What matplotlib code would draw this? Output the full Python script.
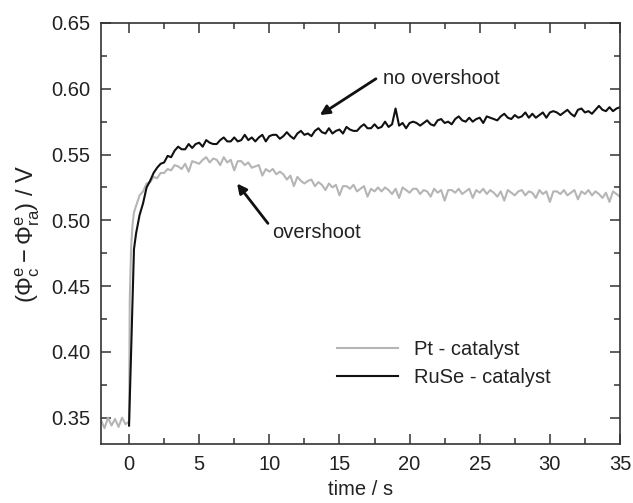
import numpy as np
import matplotlib
matplotlib.use("Agg")
import matplotlib.pyplot as plt
from matplotlib.ticker import MultipleLocator

plt.rcParams['font.family'] = ['Liberation Sans', 'DejaVu Sans']
plt.rcParams['mathtext.fontset'] = 'custom'
plt.rcParams['mathtext.rm'] = 'Liberation Sans'
plt.rcParams['mathtext.it'] = 'Liberation Sans:italic'

# --- data (time in s, potential in V) ---
# Pt before the step, t = -2 ... 0 every 0.25 s
pt_pre = [0.348, 0.342, 0.350, 0.344, 0.349, 0.343, 0.350, 0.345, 0.347]
# steep rise right after the step
pt_rise_t = [0.05, 0.15, 0.25, 0.35]
pt_rise = [0.440, 0.480, 0.497, 0.506]
ruse_rise_t = [0.0, 0.35]
ruse_rise = [0.344, 0.478]

# both traces from t = 0.5 to 35 s every 0.25 s
pt_body = [
    0.511, 0.519, 0.522, 0.528, 0.529, 0.533, 0.532, 0.536, 0.536, 0.539,
    0.538, 0.542, 0.541, 0.539, 0.543, 0.537, 0.545, 0.544, 0.543, 0.546,
    0.548, 0.544, 0.547, 0.546, 0.542, 0.548, 0.544, 0.546, 0.538, 0.545,
    0.545, 0.542, 0.544, 0.540, 0.541, 0.542, 0.534, 0.539, 0.537, 0.539,
    0.535, 0.537, 0.535, 0.531, 0.534, 0.526, 0.533, 0.530, 0.528, 0.530,
    0.531, 0.526, 0.529, 0.527, 0.523, 0.528, 0.525, 0.527, 0.519, 0.526,
    0.526, 0.524, 0.527, 0.522, 0.524, 0.526, 0.518, 0.524, 0.522, 0.525,
    0.522, 0.525, 0.523, 0.520, 0.524, 0.517, 0.525, 0.523, 0.521, 0.524,
    0.524, 0.520, 0.523, 0.522, 0.518, 0.524, 0.521, 0.523, 0.515, 0.523,
    0.523, 0.521, 0.524, 0.520, 0.522, 0.524, 0.517, 0.523, 0.521, 0.524,
    0.520, 0.523, 0.521, 0.518, 0.522, 0.515, 0.523, 0.521, 0.519, 0.522,
    0.523, 0.519, 0.522, 0.521, 0.517, 0.523, 0.520, 0.522, 0.514, 0.522,
    0.522, 0.520, 0.523, 0.519, 0.521, 0.523, 0.516, 0.522, 0.520, 0.523,
    0.519, 0.522, 0.520, 0.517, 0.521, 0.514, 0.522, 0.520, 0.518,
]
ruse_body = [
    0.490, 0.504, 0.513, 0.525, 0.530, 0.536, 0.540, 0.543, 0.544, 0.549,
    0.548, 0.553, 0.556, 0.554, 0.554, 0.558, 0.555, 0.558, 0.559, 0.556,
    0.561, 0.559, 0.558, 0.558, 0.561, 0.563, 0.560, 0.560, 0.563, 0.560,
    0.561, 0.565, 0.561, 0.563, 0.560, 0.563, 0.565, 0.560, 0.564, 0.565,
    0.565, 0.562, 0.564, 0.567, 0.564, 0.562, 0.566, 0.568, 0.565, 0.566,
    0.564, 0.568, 0.570, 0.567, 0.566, 0.570, 0.566, 0.568, 0.569, 0.566,
    0.571, 0.569, 0.568, 0.568, 0.571, 0.573, 0.570, 0.570, 0.573, 0.570,
    0.571, 0.575, 0.571, 0.573, 0.585, 0.572, 0.574, 0.570, 0.574, 0.575,
    0.574, 0.572, 0.574, 0.576, 0.573, 0.572, 0.576, 0.577, 0.574, 0.575,
    0.573, 0.577, 0.579, 0.576, 0.575, 0.578, 0.575, 0.577, 0.578, 0.574,
    0.579, 0.578, 0.577, 0.576, 0.579, 0.581, 0.578, 0.577, 0.580, 0.578,
    0.579, 0.582, 0.578, 0.581, 0.578, 0.580, 0.582, 0.578, 0.582, 0.583,
    0.582, 0.580, 0.582, 0.584, 0.581, 0.579, 0.584, 0.585, 0.582, 0.583,
    0.581, 0.584, 0.587, 0.584, 0.583, 0.586, 0.583, 0.585, 0.586,
]

t_pre = np.arange(-2, 0.01, 0.25)
t_body = np.arange(0.5, 35.01, 0.25)

pt_t = np.concatenate([t_pre, pt_rise_t, t_body])
pt_v = np.concatenate([pt_pre, pt_rise, pt_body])
ruse_t = np.concatenate([ruse_rise_t, t_body])
ruse_v = np.concatenate([ruse_rise, ruse_body])

fig = plt.figure(figsize=(6.33, 5.03), dpi=100)
ax = fig.add_axes([101 / 633, 59 / 503, 519 / 633, 421 / 503])

ax.plot(pt_t, pt_v, color='#b5b5b5', lw=1.5, label='Pt - catalyst')
ax.plot(ruse_t, ruse_v, color='#111111', lw=1.5, label='RuSe - catalyst')

ax.set_xlim(-2, 35)
ax.set_ylim(0.33, 0.65)
ax.xaxis.set_major_locator(MultipleLocator(5))
ax.xaxis.set_minor_locator(MultipleLocator(2.5))
ax.yaxis.set_major_locator(MultipleLocator(0.05))
ax.yaxis.set_minor_locator(MultipleLocator(0.025))
ax.yaxis.set_major_formatter(lambda v, p: f'{v:.2f}')
ax.tick_params(which='both', direction='in', top=True, right=True,
               width=1.1, color='#333333', labelsize=14.5, labelcolor='#222222')
ax.tick_params(which='major', length=7, pad=8)
ax.tick_params(which='minor', length=4)
for s in ax.spines.values():
    s.set_linewidth(1.2)
    s.set_color('#333333')

ax.set_xlabel('time / s', fontsize=14.5, color='#222222', labelpad=4)
ax.set_ylabel(r'$(\mathrm{\Phi^e_c - \Phi^e_{ra}})$ / V', fontsize=17,
              color='#222222', labelpad=6)

# arrows with their labels
ax.annotate('', xy=(13.6, 0.580), xytext=(17.6, 0.6076),
            arrowprops=dict(arrowstyle='-|>', lw=2, color='#111111',
                            mutation_scale=14, shrinkA=0, shrinkB=0))
ax.text(18.1, 0.608, 'no overshoot', fontsize=14.5, va='center', ha='left',
        color='#222222')
ax.annotate('', xy=(7.7, 0.528), xytext=(9.9, 0.4977),
            arrowprops=dict(arrowstyle='-|>', lw=2, color='#111111',
                            mutation_scale=14, shrinkA=0, shrinkB=0))
ax.text(10.2, 0.491, 'overshoot', fontsize=14.5, va='center', ha='left',
        color='#222222')

leg = ax.legend(loc='center left', bbox_to_anchor=(0.455, 0.191), frameon=False,
                fontsize=14.5, handlelength=3.0, handletextpad=0.8,
                labelspacing=0.45, borderpad=0, borderaxespad=0)
for t in leg.get_texts():
    t.set_color('#222222')

fig.savefig('out.png', dpi=100)
